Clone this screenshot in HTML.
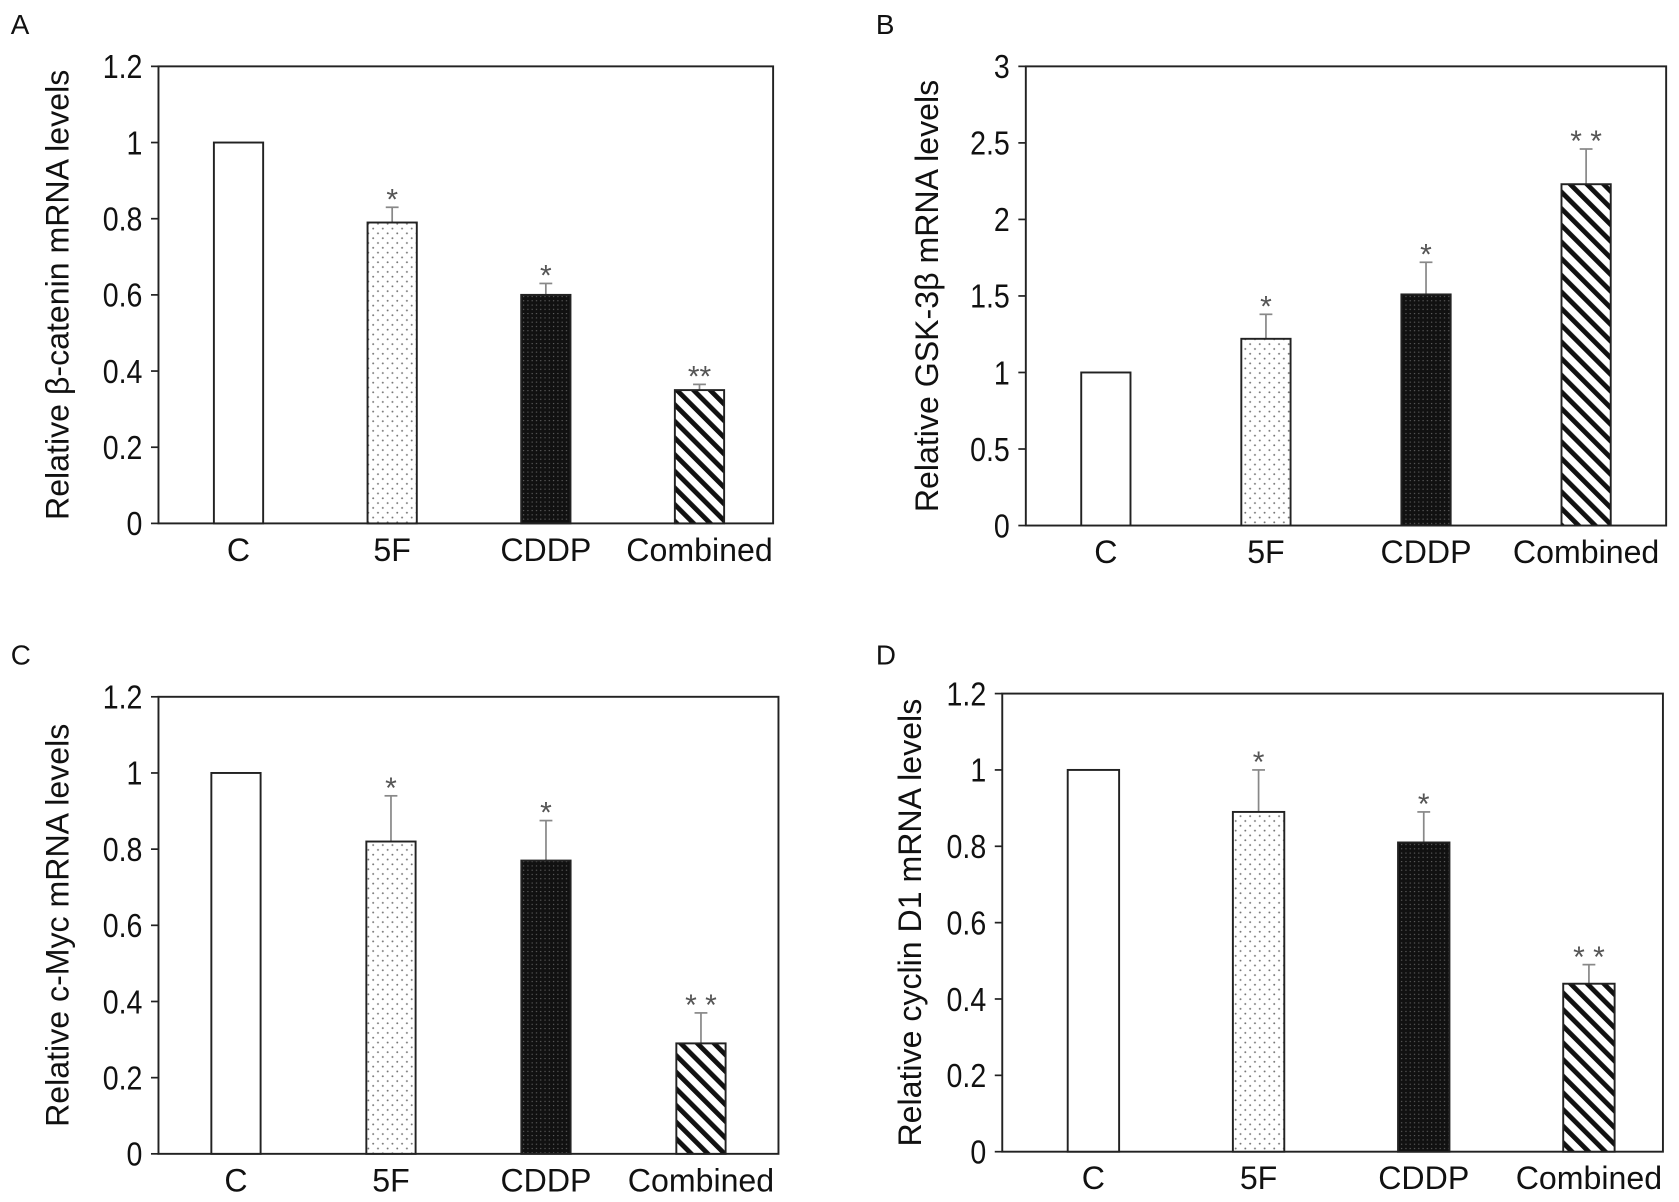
<!DOCTYPE html>
<html><head><meta charset="utf-8"><style>
html,body{margin:0;padding:0;background:#fff;}
svg{display:block;font-family:"Liberation Sans",Arial,sans-serif;}
</style></head><body>
<svg id="fig" width="1679" height="1202" viewBox="0 0 1568 1123" preserveAspectRatio="none">
<defs>
<pattern id="dots" width="9" height="9" patternUnits="userSpaceOnUse"><rect width="9" height="9" fill="#fff"/><circle cx="2" cy="2" r="0.9" fill="#777"/><circle cx="6.5" cy="6.5" r="0.9" fill="#777"/></pattern>
<pattern id="dense" width="4" height="4" patternUnits="userSpaceOnUse"><rect width="4" height="4" fill="#111"/><circle cx="1" cy="1" r="0.6" fill="#666"/></pattern>
<pattern id="hatch" width="11" height="11" patternUnits="userSpaceOnUse" patternTransform="rotate(-45)"><rect width="11" height="11" fill="#fff"/><rect x="0" y="0" width="4.5" height="11" fill="#111"/></pattern>
</defs>
<g id="root"></g>
</svg>
<script>
const categories = ["C","5F","CDDP","Combined"];
const fills = ["#fff","url(#dots)","url(#dense)","url(#hatch)"];
const valuesA = [1, 0.79, 0.60, 0.35];
const errorsA = [0, 0.04, 0.03, 0.015];
const starsA = ["", "*", "*", "**"];
const ticksA = [0,0.2,0.4,0.6,0.8,1,1.2];
const tickLabelsA = ["0","0.2","0.4","0.6","0.8","1","1.2"];
const valuesB = [1, 1.22, 1.51, 2.23];
const errorsB = [0, 0.16, 0.21, 0.23];
const starsB = ["", "*", "*", "* *"];
const ticksB = [0,0.5,1,1.5,2,2.5,3];
const tickLabelsB = ["0","0.5","1","1.5","2","2.5","3"];
const valuesC = [1, 0.82, 0.77, 0.29];
const errorsC = [0, 0.12, 0.105, 0.08];
const starsC = ["", "*", "*", "* *"];
const valuesD = [1, 0.89, 0.81, 0.44];
const errorsD = [0, 0.11, 0.08, 0.05];
const starsD = ["", "*", "*", "* *"];

const NS="http://www.w3.org/2000/svg";
const root=document.getElementById('root');
function mk(tag,attrs,parent,text){const e=document.createElementNS(NS,tag);for(const k in attrs)e.setAttribute(k,attrs[k]);if(text!==undefined)e.textContent=text;(parent||root).appendChild(e);return e;}

function panel(p){
  const g=mk('g',{});
  
  
  const y=v=>p.bottom-(v-0)/(p.max)*(p.bottom-p.top);
  const lt=mk('text',{x:p.lx,y:p.ly,'font-size':26,fill:'#111'},g,p.id);
  
  
  const frame=mk('rect',{x:p.left,y:p.top,width:p.right-p.left,height:p.bottom-p.top,fill:'none',stroke:'#222','stroke-width':1.8},g);
  
  
  p.ticks.forEach((t,i)=>{
    const yy=y(t);
    const tk=mk('line',{x1:p.left-7,x2:p.left,y1:yy,y2:yy,stroke:'#222','stroke-width':1.6},g);
    
    
    const tl=mk('text',{x:0,y:0,'font-size':31,'text-anchor':'end',fill:'#111',transform:`translate(${p.left-15} ${yy+11}) scale(0.86 1)`},g,p.tickLabels[i]);
    
    
  });
  const mid=(p.top+p.bottom)/2;
  const yt=mk('text',{x:p.tx,y:mid,'font-size':30,'text-anchor':'middle',fill:'#111',transform:`rotate(-90 ${p.tx} ${mid})`},g,p.title);
  
  
  const n=categories.length, bw=p.bw;
  categories.forEach((c,i)=>{
    const cx=p.left+(p.right-p.left)*(i+0.5)/n + p.offset;
    const v=p.values[i], e=p.errors[i];
    if(e>0){
      const el=mk('line',{x1:cx,x2:cx,y1:y(v),y2:y(v+e),stroke:'#888','stroke-width':1.6},g);
      
      
      const ec=mk('line',{x1:cx-6,x2:cx+6,y1:y(v+e),y2:y(v+e),stroke:'#888','stroke-width':1.6},g);
      
      
    }
    const b=mk('rect',{x:cx-bw/2,y:y(v),width:bw,height:p.bottom-y(v),fill:fills[i],stroke:'#222','stroke-width':1.8},g);
    
    
    if(p.stars[i]){
      const s=mk('text',{x:cx,y:y(v+e)+2,'font-size':28,'text-anchor':'middle',fill:'#555'},g,p.stars[i]);
      
      
    }
    const xl=mk('text',{x:cx,y:p.bottom+35,'font-size':30,'text-anchor':'middle',fill:'#111'},g,c);
    
    
  });
}
panel({id:'A',lx:10,ly:32,left:148,right:722,top:62,bottom:489,max:1.2,ticks:ticksA,tickLabels:tickLabelsA,values:valuesA,errors:errorsA,stars:starsA,title:'Relative β-catenin mRNA levels',tx:64,bw:46,offset:3});
panel({id:'B',lx:818,ly:32,left:958,right:1556,top:62,bottom:491,max:3,ticks:ticksB,tickLabels:tickLabelsB,values:valuesB,errors:errorsB,stars:starsB,title:'Relative GSK-3β mRNA levels',tx:876,bw:46,offset:0});
panel({id:'C',lx:10,ly:621,left:148,right:727,top:651,bottom:1078,max:1.2,ticks:ticksA,tickLabels:tickLabelsA,values:valuesC,errors:errorsC,stars:starsC,title:'Relative c-Myc mRNA levels',tx:64,bw:46,offset:0});
panel({id:'D',lx:818,ly:621,left:936,right:1553,top:648,bottom:1076,max:1.2,ticks:ticksA,tickLabels:tickLabelsA,values:valuesD,errors:errorsD,stars:starsD,title:'Relative cyclin D1 mRNA levels',tx:860,bw:48,offset:8});
</script>
</body></html>
